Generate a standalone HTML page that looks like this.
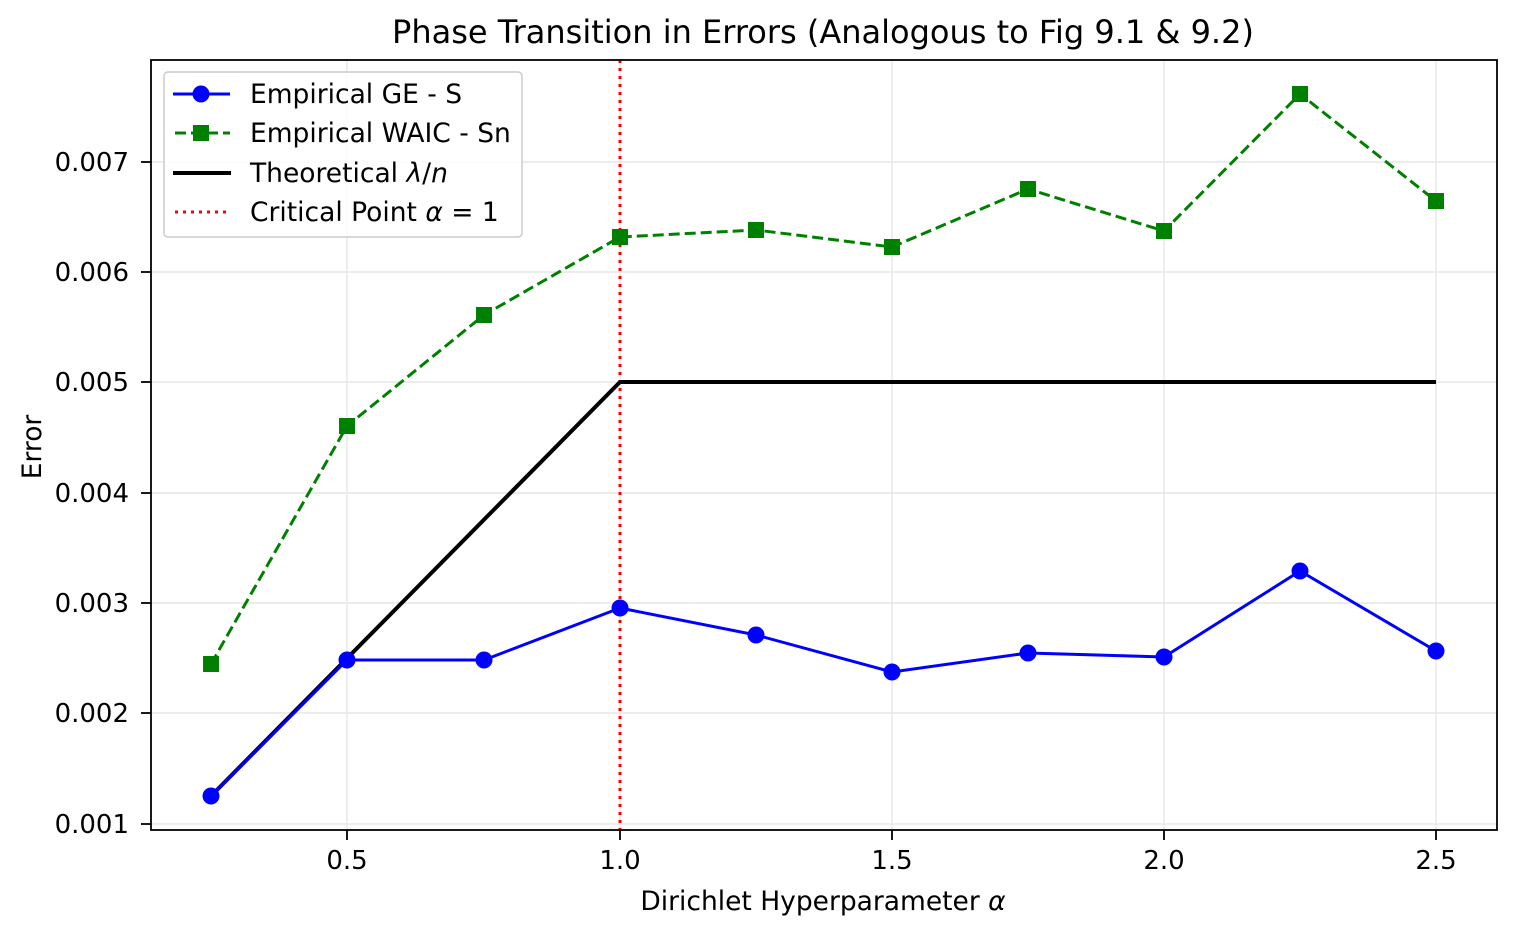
<!DOCTYPE html>
<html><head><meta charset="utf-8"><style>
body{margin:0;background:#fff;}
svg text{font-family:"DejaVu Sans","Liberation Sans",sans-serif;fill:#000;}
</style></head><body>
<svg width="1516" height="936" viewBox="0 0 1516 936" xmlns="http://www.w3.org/2000/svg">
<rect width="1516" height="936" fill="#fff"/>
<g stroke="#e6e6e6" stroke-width="1.4">
<line x1="347" y1="60" x2="347" y2="830"/><line x1="620" y1="60" x2="620" y2="830"/>
<line x1="892" y1="60" x2="892" y2="830"/><line x1="1164" y1="60" x2="1164" y2="830"/>
<line x1="1436" y1="60" x2="1436" y2="830"/>
<line x1="151" y1="162" x2="1497" y2="162"/><line x1="151" y1="272" x2="1497" y2="272"/>
<line x1="151" y1="382" x2="1497" y2="382"/><line x1="151" y1="493" x2="1497" y2="493"/>
<line x1="151" y1="603" x2="1497" y2="603"/><line x1="151" y1="713" x2="1497" y2="713"/>
<line x1="151" y1="824" x2="1497" y2="824"/>
</g>
<line x1="620" y1="60" x2="620" y2="830" stroke="#ff0000" stroke-width="3" stroke-dasharray="3,5"/>
<polyline points="211,796 620,382 1436,382" fill="none" stroke="#000" stroke-width="4"/>
<polyline points="211,796 347,660 484,660 620,608 756,635 892,672 1028,653 1164,657 1300,571 1436,651" fill="none" stroke="#0000ff" stroke-width="3"/>
<g fill="#0000ff">
<circle cx="211" cy="796" r="8.5"/><circle cx="347" cy="660" r="8.5"/><circle cx="484" cy="660" r="8.5"/><circle cx="620" cy="608" r="8.5"/><circle cx="756" cy="635" r="8.5"/><circle cx="892" cy="672" r="8.5"/><circle cx="1028" cy="653" r="8.5"/><circle cx="1164" cy="657" r="8.5"/><circle cx="1300" cy="571" r="8.5"/><circle cx="1436" cy="651" r="8.5"/>
</g>
<polyline points="211,664 347,426 484,315 620,237 756,230 892,247 1028,189 1164,231 1300,94 1436,201" fill="none" stroke="#008000" stroke-width="3" stroke-dasharray="11,5"/>
<g fill="#008000">
<rect x="203" y="656" width="16" height="16"/><rect x="339" y="418" width="16" height="16"/><rect x="476" y="307" width="16" height="16"/><rect x="612" y="229" width="16" height="16"/><rect x="748" y="222" width="16" height="16"/><rect x="884" y="239" width="16" height="16"/><rect x="1020" y="181" width="16" height="16"/><rect x="1156" y="223" width="16" height="16"/><rect x="1292" y="86" width="16" height="16"/><rect x="1428" y="193" width="16" height="16"/>
</g>
<rect x="151" y="60" width="1346" height="770" fill="none" stroke="#000" stroke-width="1.8"/>
<g stroke="#000" stroke-width="1.8">
<line x1="347" y1="830" x2="347" y2="840"/><line x1="620" y1="830" x2="620" y2="840"/><line x1="892" y1="830" x2="892" y2="840"/><line x1="1164" y1="830" x2="1164" y2="840"/><line x1="1436" y1="830" x2="1436" y2="840"/>
<line x1="141" y1="162" x2="151" y2="162"/><line x1="141" y1="272" x2="151" y2="272"/><line x1="141" y1="382" x2="151" y2="382"/><line x1="141" y1="493" x2="151" y2="493"/><line x1="141" y1="603" x2="151" y2="603"/><line x1="141" y1="713" x2="151" y2="713"/><line x1="141" y1="824" x2="151" y2="824"/>
</g>
<g font-size="26" text-anchor="middle">
<text x="347" y="869">0.5</text><text x="620" y="869">1.0</text><text x="892" y="869">1.5</text><text x="1164" y="869">2.0</text><text x="1436" y="869">2.5</text>
</g>
<g font-size="26" text-anchor="end">
<text x="129" y="171">0.007</text><text x="129" y="281">0.006</text><text x="129" y="391">0.005</text><text x="129" y="502">0.004</text><text x="129" y="612">0.003</text><text x="129" y="722">0.002</text><text x="129" y="833">0.001</text>
</g>
<text x="823" y="910" font-size="26.5" text-anchor="middle">Dirichlet Hyperparameter <tspan font-style="italic">α</tspan></text>
<text x="41" y="447" font-size="26.5" text-anchor="middle" transform="rotate(-90 41 447)">Error</text>
<text x="823" y="43" font-size="32" text-anchor="middle">Phase Transition in Errors (Analogous to Fig 9.1 &amp; 9.2)</text>
<rect x="164" y="72" width="358" height="165" rx="4" fill="#fff" fill-opacity="0.8" stroke="#ccc" stroke-width="1.5"/>
<line x1="173" y1="94" x2="230" y2="94" stroke="#0000ff" stroke-width="3"/><circle cx="201" cy="94" r="8.5" fill="#0000ff"/>
<line x1="175" y1="133" x2="230" y2="133" stroke="#008000" stroke-width="3" stroke-dasharray="11,5"/><rect x="193" y="125" width="16" height="16" fill="#008000"/>
<line x1="173" y1="173" x2="231" y2="173" stroke="#000" stroke-width="4"/>
<line x1="175" y1="212" x2="231" y2="212" stroke="#ff0000" stroke-width="3" stroke-dasharray="3,5"/>
<g font-size="26.5">
<text x="250" y="103">Empirical GE - S</text>
<text x="250" y="142">Empirical WAIC - Sn</text>
<text x="250" y="182">Theoretical <tspan font-style="italic">λ</tspan>/<tspan font-style="italic">n</tspan></text>
<text x="250" y="221">Critical Point <tspan font-style="italic">α</tspan> = 1</text>
</g>
</svg>
</body></html>
